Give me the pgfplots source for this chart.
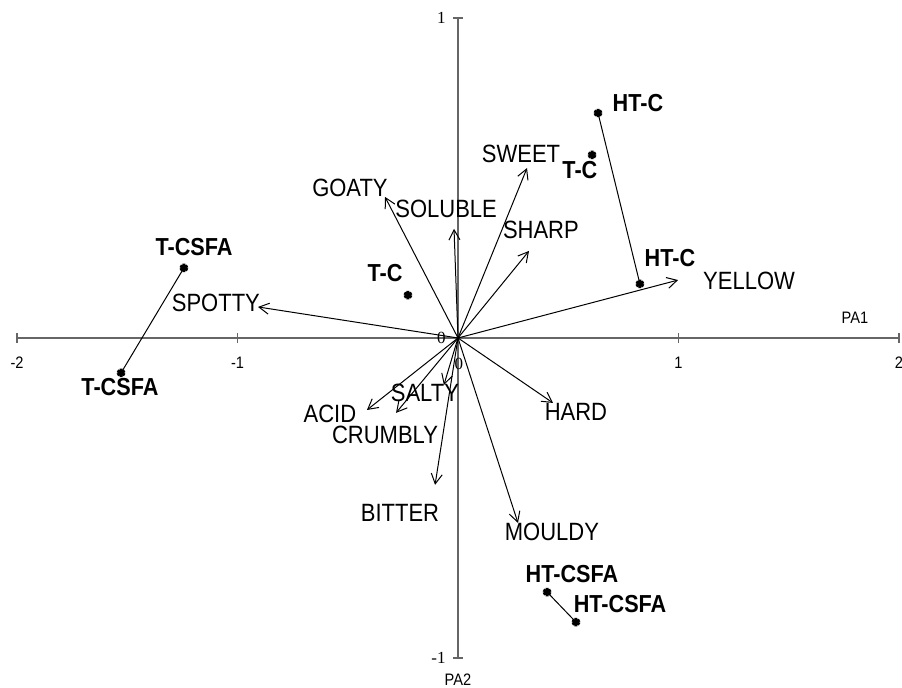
\documentclass[border=0pt]{standalone}
\usepackage{fontspec}
\setmainfont{Liberation Sans}
\newfontfamily\narrowsans[FakeStretch=0.88]{Liberation Sans}
\newfontfamily\tnr{Liberation Serif}
\usepackage{pgfplots}
\pgfplotsset{compat=1.18}
\usetikzlibrary{arrows.meta}
\tikzset{
  att/.style={font=\narrowsans\fontsize{12.5}{14}\selectfont, inner sep=0pt},
  smp/.style={font=\narrowsans\bfseries\fontsize{12.3}{14}\selectfont, inner sep=0pt},
  tk/.style={font=\narrowsans\fontsize{8.3}{10}\selectfont, inner sep=0pt},
  tks/.style={font=\tnr\fontsize{8.5}{10}\selectfont, inner sep=0pt},
  vec/.style={black, line width=0.5pt, -{Straight Barb[length=5pt,width=5.5pt,line width=0.5pt]}},
  smk/.style={black, mark=asterisk, mark size=2.1pt, mark options={line width=1.5pt}},
}
\begin{document}
\begin{tikzpicture}
\useasboundingbox (0,0) rectangle (451pt,344pt);
\begin{axis}[
  at={(8.5pt,15pt)}, anchor=south west,
  scale only axis, width=441pt, height=320pt,
  xmin=-2, xmax=2, ymin=-1, ymax=1,
  axis lines=middle,
  axis line style={-, black!60, line width=0.6pt},
  xtick={-2,-1,1,2}, ytick={-1,1},
  xticklabels={}, yticklabels={},
  major tick length=5pt, tick align=center,
  tick style={black!60, line width=0.6pt},
  clip=false,
]
% sample pairs
\addplot[smk, line width=0.5pt] coordinates {(-1.243,0.219) (-1.528,-0.109)};
\addplot[smk, line width=0.5pt] coordinates {(0.635,0.703) (0.825,0.169)};
\addplot[smk, line width=0.5pt] coordinates {(0.404,-0.794) (0.535,-0.888)};
\addplot[smk, only marks] coordinates {(0.608,0.572) (-0.227,0.134)};
% attribute vectors
\addplot[vec] coordinates {(0,0) (-0.907,0.097)};
\addplot[vec] coordinates {(0,0) (-0.331,0.441)};
\addplot[vec] coordinates {(0,0) (-0.018,0.341)};
\addplot[vec] coordinates {(0,0) (0.313,0.531)};
\addplot[vec] coordinates {(0,0) (0.322,0.272)};
\addplot[vec] coordinates {(0,0) (0.998,0.181)};
\addplot[vec] coordinates {(0,0) (0.431,-0.203)};
\addplot[vec] coordinates {(0,0) (0.272,-0.578)};
\addplot[vec] coordinates {(0,0) (-0.104,-0.459)};
\addplot[vec] coordinates {(0,0) (-0.281,-0.234)};
\addplot[vec] coordinates {(0,0) (-0.413,-0.225)};
\addplot[vec] coordinates {(0,0) (-0.064,-0.147)};
% attribute labels
\node[att] at (axis cs:-1.098,0.109) {SPOTTY};
\node[att] at (axis cs:-0.490,0.469) {GOATY};
\node[att] at (axis cs:-0.054,0.403) {SOLUBLE};
\node[att] at (axis cs:0.286,0.575) {SWEET};
\node[att] at (axis cs:0.376,0.3375) {SHARP};
\node[att] at (axis cs:1.320,0.178) {YELLOW};
\node[att] at (axis cs:0.535,-0.231) {HARD};
\node[att] at (axis cs:0.426,-0.606) {MOULDY};
\node[att] at (axis cs:-0.263,-0.547) {BITTER};
\node[att] at (axis cs:-0.331,-0.303) {CRUMBLY};
\node[att] at (axis cs:-0.581,-0.2375) {ACID};
\node[att] at (axis cs:-0.150,-0.172) {SALTY};
% sample labels
\node[smp] at (axis cs:0.816,0.734) {HT-C};
\node[smp] at (axis cs:0.553,0.525) {T-C};
\node[smp] at (axis cs:0.961,0.250) {HT-C};
\node[smp] at (axis cs:-0.331,0.203) {T-C};
\node[smp] at (axis cs:-1.197,0.284) {T-CSFA};
\node[smp] at (axis cs:-1.533,-0.153) {T-CSFA};
\node[smp] at (axis cs:0.517,-0.7375) {HT-CSFA};
\node[smp] at (axis cs:0.735,-0.831) {HT-CSFA};
% tick labels
\node[tk] at (axis cs:-2,0) [yshift=-12.5pt] {-2};
\node[tk] at (axis cs:-1,0) [yshift=-12.5pt] {-1};
\node[tk] at (axis cs:1,0) [yshift=-12.5pt] {1};
\node[tk] at (axis cs:2,0) [yshift=-12.5pt] {2};
\node[tks, anchor=east] at (axis cs:0,1) [xshift=-6pt] {1};
\node[tks, anchor=east] at (axis cs:0,-1) [xshift=-6pt] {-1};
\node[tks, anchor=east] at (axis cs:0,0) [xshift=-6pt] {0};
\node[tks] at (axis cs:0,0) [yshift=-13pt, xshift=0.5pt] {0};
% axis names
\node[tk] at (axis cs:1.80,0.0625) {PA1};
\node[tk] at (axis cs:0,-1.069) {PA2};
\end{axis}
\end{tikzpicture}
\end{document}
